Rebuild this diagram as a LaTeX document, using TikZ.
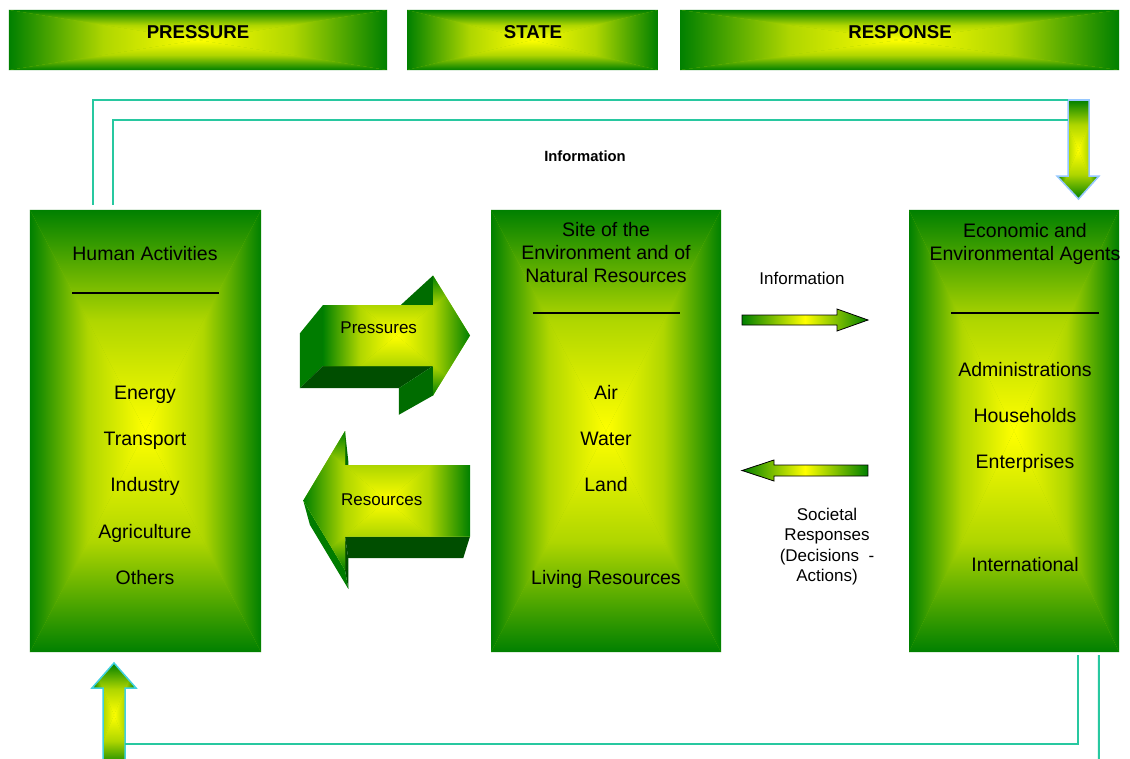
\documentclass[tikz,border=0pt]{standalone}
\usepackage{fontspec}
\setmainfont{Liberation Sans}
\usetikzlibrary{calc}

\definecolor{gedge}{RGB}{0,128,0}
\definecolor{gcore}{RGB}{255,255,0}
\definecolor{ghalf}{RGB}{175,214,0}
\definecolor{gmid}{RGB}{150,200,0}
\definecolor{gdark}{RGB}{0,78,0}
\definecolor{gside}{RGB}{0,124,0}
\definecolor{gshade}{RGB}{0,108,0}
\definecolor{link}{RGB}{40,200,160}
\definecolor{skyline}{RGB}{150,200,255}
\definecolor{cyanline}{RGB}{64,208,224}

% rectangular "from centre" gradient: green rim, yellow core
\newcommand\rectgrad[2]{%
  \coordinate (rg-c) at ($(#1)!0.5!(#2)$);
  \coordinate (rg-ne) at (#2 |- #1);
  \coordinate (rg-sw) at (#1 |- #2);
  \fill[gmid] (#1) rectangle (#2);
  \shade[top color=gedge, bottom color=gcore, middle color=ghalf] (#1) -- (rg-ne) -- (rg-c) -- cycle;
  \shade[top color=gcore, bottom color=gedge, middle color=ghalf] (rg-sw) -- (#2) -- (rg-c) -- cycle;
  \shade[left color=gedge, right color=gcore, middle color=ghalf] (#1) -- (rg-sw) -- (rg-c) -- cycle;
  \shade[left color=gcore, right color=gedge, middle color=ghalf] (rg-ne) -- (#2) -- (rg-c) -- cycle;
}

\tikzset{
  gbox/.style={rectangle, inner sep=0pt, fill=gmid,
    path picture={\rectgrad{path picture bounding box.north west}{path picture bounding box.south east}}},
  headtxt/.style={font=\fontsize{18.6bp}{22bp}\selectfont\bfseries, anchor=base, inner sep=0pt},
  bigtxt/.style={font=\fontsize{19.5bp}{23bp}\selectfont, anchor=base, inner sep=0pt},
  smalltxt/.style={font=\fontsize{17bp}{20bp}\selectfont, anchor=base, inner sep=0pt},
  conn/.style={draw=link, line width=2bp},
  titlerule/.style={line width=1.3bp, black},
  thinarrow/.style={draw=black, line width=0.8bp, left color=gedge, right color=gedge, middle color=gcore},
}

\begin{document}
\begin{tikzpicture}[x=1bp, y=-1bp]
\clip (0,0) rectangle (1130,759);
\fill[white] (0,0) rectangle (1130,759);

% ---- header bars ----
\node[gbox, minimum width=378bp, minimum height=60bp] (pbar) at (198,40) {};
\node[gbox, minimum width=251bp, minimum height=60bp] (sbar) at (532.5,40) {};
\node[gbox, minimum width=439bp, minimum height=60bp] (rbar) at (899.5,40) {};
\node[headtxt] (ptitle) at (198,38.3) {PRESSURE};
\node[headtxt] (stitle) at (533,38.3) {STATE};
\node[headtxt] (rtitle) at (900,38.3) {RESPONSE};

% ---- the three main boxes ----
\node[gbox, minimum width=231bp, minimum height=442bp] (human) at (145.5,431) {};
\node[gbox, minimum width=230bp, minimum height=442bp] (site) at (606,431) {};
\node[gbox, minimum width=210bp, minimum height=442bp] (agents) at (1014,431) {};

% Human activities
\node[bigtxt] (h0) at (145,260) {Human Activities};
\draw[titlerule] (72,293) -- (219,293);
\node[bigtxt] (h1) at (145,399) {Energy};
\node[bigtxt] (h2) at (145,445) {Transport};
\node[bigtxt] (h3) at (145,491) {Industry};
\node[bigtxt] (h4) at (145,538) {Agriculture};
\node[bigtxt] (h5) at (145,584) {Others};

% State of the environment
\node[bigtxt] (s0a) at (606,236.7) {Site of the};
\node[bigtxt] (s0b) at (606,259.5) {Environment and of};
\node[bigtxt] (s0c) at (606,282.5) {Natural Resources};
\draw[titlerule] (532.7,313) -- (680,313);
\node[bigtxt] (s1) at (606,399) {Air};
\node[bigtxt] (s2) at (606,445) {Water};
\node[bigtxt] (s3) at (606,491) {Land};
\node[bigtxt] (s4) at (606,584) {Living Resources};

% Agents
\node[bigtxt] (a0a) at (1025,237) {Economic and};
\node[bigtxt] (a0b) at (1025,260) {Environmental Agents};
\draw[titlerule] (951,313) -- (1099,313);
\node[bigtxt] (a1) at (1025,376) {Administrations};
\node[bigtxt] (a2) at (1025,422) {Households};
\node[bigtxt] (a3) at (1025,468) {Enterprises};
\node[bigtxt] (a4) at (1025,571) {International};

% ---- 3D arrow: Pressures ----
\coordinate (pv) at (92,588);
\coordinate (pA) at (323,305);
\coordinate (pB) at (433,305);
\coordinate (pC) at (433,275.5);
\coordinate (pD) at (470,335.5);
\coordinate (pE) at (433,395.5);
\coordinate (pF) at (433,366);
\coordinate (pG) at (323,366);
\foreach \q in {A,B,C,E,F,G} {\coordinate (p\q b) at ($(pv)!0.9!(p\q)$);}
\fill[gside] (pA) -- (pG) -- (pGb) -- (pAb) -- cycle;
\fill[gdark] (pG) -- (pF) -- (pFb) -- (pGb) -- cycle;
\fill[gshade] (pB) -- (pC) -- (pCb) -- (pBb) -- cycle;
\fill[gshade] (pF) -- (pE) -- (pEb) -- (pFb) -- cycle;
\begin{scope}
  \clip (pA) -- (pB) -- (pC) -- (pD) -- (pE) -- (pF) -- (pG) -- cycle;
  \coordinate (pnw) at (323,275.5);
  \coordinate (pse) at (470,395.5);
  \rectgrad{pnw}{pse}
\end{scope}
\node[smalltxt] (plabel) at (378.7,333.7) {Pressures};

% ---- 3D arrow: Resources ----
\coordinate (rv) at (386,806);
\coordinate (rT) at (303.3,500.5);
\coordinate (rH1) at (345,431);
\coordinate (rS1) at (345,465);
\coordinate (rR1) at (470,465);
\coordinate (rR2) at (470,536.5);
\coordinate (rS2) at (345,536.5);
\coordinate (rH2) at (345,570);
\foreach \q in {T,H1,S1,R2,S2,H2} {\coordinate (r\q b) at ($(rv)!0.92!(r\q)$);}
\fill[gshade] (rH1) -- (rS1) -- (rS1b) -- (rH1b) -- cycle;
\fill[gdark] (rS2) -- (rH2) -- (rH2b) -- (rS2b) -- cycle;
\fill[gdark] (rS2) -- (rR2) -- (rR2b) -- (rS2b) -- cycle;
\fill[gside] (rT) -- (rH2) -- (rH2b) -- (rTb) -- cycle;
\begin{scope}
  \clip (rT) -- (rH1) -- (rS1) -- (rR1) -- (rR2) -- (rS2) -- (rH2) -- cycle;
  \coordinate (rnw) at (303.3,431);
  \coordinate (rse) at (470,570);
  \rectgrad{rnw}{rse}
\end{scope}
\node[smalltxt] (rlabel) at (381.7,505) {Resources};

% ---- thin arrows between state and response ----
\path[thinarrow] (742,315) -- (837,315) -- (837,309) -- (868,320) -- (837,331) -- (837,325) -- (742,325) -- cycle;
\node[smalltxt] (infomid) at (802,284) {Information};
\path[thinarrow] (742,470.5) -- (774,460) -- (774,465) -- (868,465) -- (868,476) -- (774,476) -- (774,481) -- cycle;
\node[smalltxt] (soc1) at (827,520) {Societal};
\node[smalltxt] (soc2) at (827,540.5) {Responses};
\node[smalltxt] (soc3) at (827,561) {(Decisions \ -};
\node[smalltxt] (soc4) at (827,581.5) {Actions)};

% ---- feedback arrows ----
\begin{scope}
  \clip (1068,100) -- (1089,100) -- (1089,176) -- (1099,176) -- (1078.5,199) -- (1057,176) -- (1068,176) -- cycle;
  \coordinate (tnw) at (1057,100);
  \coordinate (tse) at (1099,199);
  \rectgrad{tnw}{tse}
\end{scope}
\draw[skyline, line width=1.5bp, line join=miter] (1068,100) -- (1089,100) -- (1089,176) -- (1099,176) -- (1078.5,199) -- (1057,176) -- (1068,176) -- cycle;
\coordinate (topin1) at (1068,100);
\coordinate (topin2) at (1068,120);

\begin{scope}
  \clip (114,663) -- (136,688) -- (125,688) -- (125,767) -- (103,767) -- (103,688) -- (92,688) -- cycle;
  \coordinate (bnw) at (92,663);
  \coordinate (bse) at (136,767);
  \rectgrad{bnw}{bse}
\end{scope}
\draw[cyanline, line width=1.5bp] (114,663) -- (136,688) -- (125,688) -- (125,767) -- (103,767) -- (103,688) -- (92,688) -- cycle;
\coordinate (botin) at (125,744);
\coordinate (offedge) at (1099,770);

\node[font=\fontsize{14.8bp}{18bp}\selectfont\bfseries, anchor=base, inner sep=0pt] (infotop) at (585,161) {Information};

% ---- information loop connectors ----
\draw[conn] ([xshift=63bp,yshift=5bp]human.north west) |- (topin1);
\draw[conn] ([xshift=83bp,yshift=5bp]human.north west) |- (topin2);
\draw[conn] ([xshift=169bp,yshift=-3bp]agents.south west) |- (botin);
\draw[conn] ([xshift=190bp,yshift=-3bp]agents.south west) -- (offedge);
\end{tikzpicture}
\end{document}
